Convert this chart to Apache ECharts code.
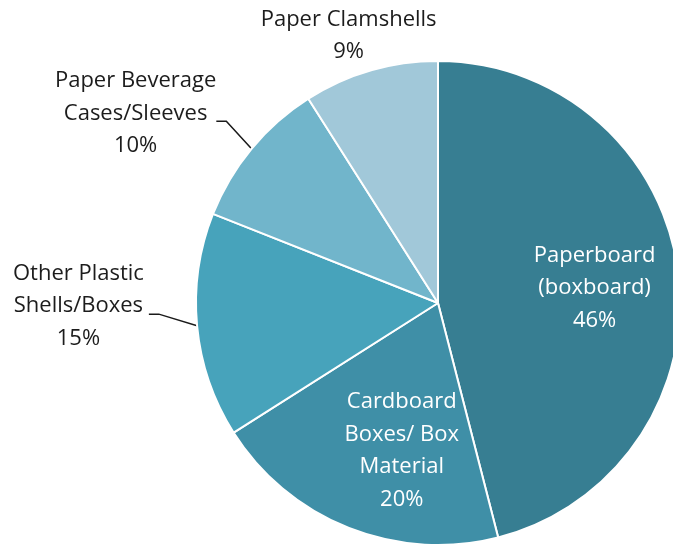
<!DOCTYPE html>
<html><head><meta charset="utf-8">
<script src="https://cdn.jsdelivr.net/npm/echarts@6/dist/echarts.min.js"></script>
<style>html,body{margin:0;padding:0;background:#fff}#c{width:673px;height:549px}</style>
</head><body><div id="c"></div>
<script>
const categories = ['Paperboard\n(boxboard)', 'Cardboard\nBoxes/ Box\nMaterial', 'Other Plastic\nShells/Boxes', 'Paper Beverage\nCases/Sleeves', 'Paper Clamshells'];
const shares = [46, 20, 15, 10, 9];

const colors = ['#377E92', '#3F8FA7', '#47A3BB', '#71B5CB', '#A1C8D9'];
const CX = 438, CY = 303, R = 242;
const total = shares.reduce((a, b) => a + b, 0);
function midAngle(i) { let s = 0; for (let k = 0; k < i; k++) s += shares[k]; return (s + shares[i] / 2) / total * 2 * Math.PI; }
function polar(a, r) { return [CX + r * Math.sin(a), CY - r * Math.cos(a)]; }
// label placement relative to its slice: radius factor, angle shift (deg)
const place = [
  { rf: 0.65, da: 1.7 },
  { rf: 0.628, da: -7.8 },
  { rf: 1.486, da: 4.9 },
  { rf: 1.475, da: -7.5 },
  { rf: 1.164, da: -2.3 }
];
const leaderGap = [null, null, 5, 0, null];
const isInside = [true, true, false, false, false];

const chart = echarts.init(document.getElementById('c'), null, { renderer: 'canvas' });
chart.setOption({
  animation: false,
  backgroundColor: '#fff',
  series: [{
    type: 'pie',
    center: [CX, CY],
    radius: [0, R],
    startAngle: 90,
    clockwise: true,
    avoidLabelOverlap: false,
    itemStyle: { borderColor: '#fff', borderWidth: 2 },
    label: {
      formatter: '{b}\n{c}%',
      fontFamily: 'Open Sans',
      fontSize: 22,
      lineHeight: 32.5
    },
    labelLine: { lineStyle: { color: '#1a1a1a', width: 1.5 } },
    labelLayout: function (p) {
      const i = p.dataIndex;
      const a = midAngle(i) + place[i].da * Math.PI / 180;
      const pt = polar(a, place[i].rf * R);
      const out = { x: pt[0], y: pt[1], align: 'center', verticalAlign: 'middle' };
      if (leaderGap[i] != null) {
        const w = p.labelRect.width;
        const start = polar(midAngle(i), R);
        const ex = pt[0] + w / 2 + leaderGap[i], ey = pt[1] + 8;
        out.labelLinePoints = [start, [ex + 10, ey], [ex, ey]];
      }
      return out;
    },
    data: categories.map((name, i) => ({
      name: name,
      value: shares[i],
      itemStyle: { color: colors[i] },
      label: {
        position: isInside[i] ? 'inside' : 'outside',
        color: isInside[i] ? '#ffffff' : '#1c1c1c'
      },
      labelLine: { show: leaderGap[i] != null }
    }))
  }]
});
</script>
</body></html>
